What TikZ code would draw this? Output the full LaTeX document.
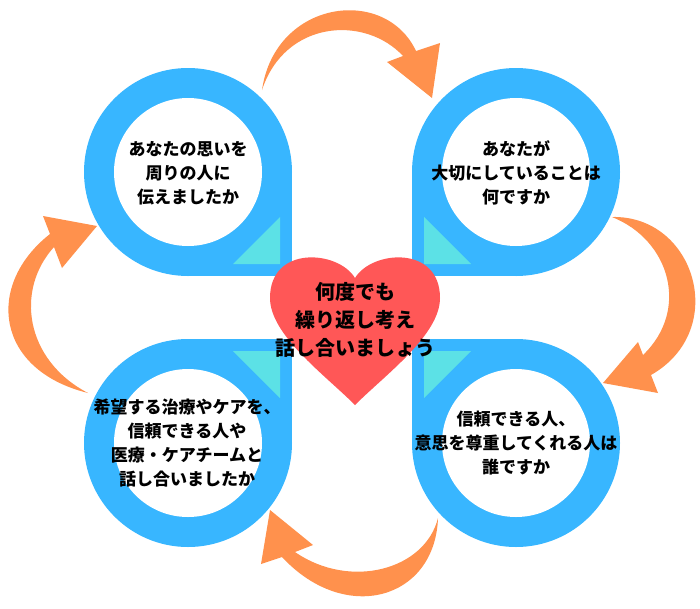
\documentclass[tikz,border=0pt]{standalone}
\usepackage{fontspec}
\newfontfamily\jpfont{Noto Sans CJK JP}
\definecolor{bubbleblue}{HTML}{38B6FF}
\definecolor{cornercyan}{HTML}{5CE1E6}
\definecolor{turnorange}{HTML}{FF914D}
\definecolor{heartred}{HTML}{FF5757}
\begin{document}
\begin{tikzpicture}[x=1pt, y=-1pt,
		bubble/.style={fill=bubbleblue},
		corner/.style={fill=cornercyan},
		turn/.style={fill=turnorange},
		question/.style={align=center, inner sep=0pt, text=black, font=\jpfont\bfseries\fontsize{17}{24}\selectfont}]
			\useasboundingbox (0,0) rectangle (700,608);

			\coordinate (tl) at (188,172);
			\coordinate (tr) at (516,172);
			\coordinate (bl) at (188,443);
			\coordinate (br) at (516,443);

			% the four bubbles, square corner towards the middle
			\foreach \c/\sx/\sy in {tl/1/1, tr/-1/1, bl/1/-1, br/-1/-1} {
				\begin{scope}[shift={(\c)}]
					\fill[bubble] (0,0) circle[radius=104pt];
					\fill[bubble] (0,0) rectangle (104*\sx,104*\sy);
					\fill[white] (0,0) circle[radius=74pt];
					\fill[corner] (92*\sx,92*\sy) -- (45*\sx,92*\sy) -- (92*\sx,45*\sy) -- cycle;
				\end{scope}
			}

			% turning arrows
			\fill[turn] (262,90) .. controls (275,0) and (385,-15) .. (416,51) -- (440,43) -- (432,98) -- (387,62) -- (403,56) .. controls (365,15) and (285,20) .. (262,90) -- cycle;
			\fill[turn] (612,217) .. controls (695,215) and (730,330) .. (651,375) -- (658,393) -- (603,383) -- (638,342) -- (643,355) .. controls (690,310) and (670,240) .. (612,217) -- cycle;
			\fill[turn] (438,518) .. controls (435,600) and (345,625) .. (282,557) -- (261,564) -- (270,510) -- (313,545) -- (295,552) .. controls (350,590) and (425,570) .. (438,518) -- cycle;
			\fill[turn] (88,393) .. controls (-5,370) and (-15,285) .. (50,234) -- (43,216) -- (97,226) -- (62,268) -- (54,247) .. controls (15,290) and (25,360) .. (88,393) -- cycle;

			% heart
			\fill[heartred] (355,278) .. controls (372,250) and (440,245) .. (440,298)
				.. controls (440,335) and (385,375) .. (355,405)
				.. controls (325,375) and (270,335) .. (270,298)
				.. controls (270,245) and (338,250) .. (355,278) -- cycle;

			\node[question] (share) at (188,173) {あなたの思いを\\周りの人に\\伝えましたか};
			\node[question] (value) at (516,173) {あなたが\\大切にしていることは\\何ですか};
			\node[question] (trust) at (516,443) {信頼できる人、\\意思を尊重してくれる人は\\誰ですか};
			\node[question] (talk) at (187,443) {希望する治療やケアを、\\信頼できる人や\\医療・ケアチームと\\話し合いましたか};
			\node[question, font=\jpfont\bfseries\fontsize{20}{28}\selectfont] (again) at (355,320) {何度でも\\繰り返し考え\\話し合いましょう};
		\end{tikzpicture}
\end{document}
